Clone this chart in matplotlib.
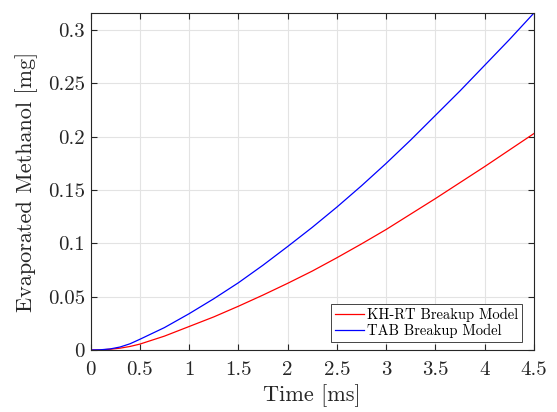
import numpy as np
from matplotlib import pyplot as plt

# time in ms
time = [0, 0.1, 0.2, 0.3, 0.4, 0.5, 0.75, 1.0, 1.25, 1.5, 1.75, 2.0, 2.25, 2.5,
        2.75, 3.0, 3.25, 3.5, 3.75, 4.0, 4.25, 4.5]

# evaporated methanol in mg
kh_rt = [0, 0.0001, 0.0007, 0.0017, 0.0033, 0.0055, 0.013, 0.022, 0.031, 0.041,
         0.0515, 0.0625, 0.074, 0.0865, 0.0995, 0.113, 0.1275, 0.142, 0.157,
         0.172, 0.1875, 0.203]
tab = [0, 0.0002, 0.001, 0.0028, 0.0058, 0.010, 0.021, 0.034, 0.048, 0.063,
       0.0795, 0.097, 0.115, 0.134, 0.154, 0.175, 0.197, 0.220, 0.243, 0.267,
       0.291, 0.316]

plt.rcParams['font.family'] = 'cmr10'
plt.rcParams['mathtext.fontset'] = 'cm'
plt.rcParams['axes.formatter.use_mathtext'] = True
plt.rcParams['axes.unicode_minus'] = False

fig = plt.figure(figsize=(5.57, 4.12), dpi=100)
ax = fig.add_axes([0.1625, 0.1505, 0.7962, 0.818])

ax.plot(time, kh_rt, color='red', lw=0.9, label='KH-RT Breakup Model')
ax.plot(time, tab, color='blue', lw=0.9, label='TAB Breakup Model')

ax.set_xlim(0, 4.5)
ax.set_ylim(0, max(tab))
ax.set_xticks(np.arange(0, 4.51, 0.5))
ax.set_yticks(np.arange(0, 0.31, 0.05))
ax.set_xticklabels(['0', '0.5', '1', '1.5', '2', '2.5', '3', '3.5', '4', '4.5'])
ax.set_yticklabels(['0', '0.05', '0.1', '0.15', '0.2', '0.25', '0.3'])

ax.grid(True, color='#e3e3e3', lw=0.8)
ax.set_axisbelow(True)
for s in ax.spines.values():
    s.set_color('#262626')
    s.set_linewidth(0.8)
ax.tick_params(direction='in', top=True, right=True, length=4, pad=4,
               color='#262626', labelsize=15, labelcolor='#262626')
ax.tick_params(axis='x', pad=8)

ax.set_xlabel('Time [ms]', fontsize=16, color='#262626', labelpad=4)
ax.set_ylabel('Evaporated Methanol [mg]', fontsize=16, color='#262626', labelpad=7)

leg = ax.legend(loc='lower right', bbox_to_anchor=(0.9723, 0.0246), fontsize=10.5,
                fancybox=False, framealpha=1, edgecolor='#262626', borderpad=0.25,
                handlelength=2.0, handletextpad=0.2, labelspacing=0.15,
                borderaxespad=0)
leg.get_frame().set_linewidth(0.6)

plt.savefig('out.png', dpi=100)
